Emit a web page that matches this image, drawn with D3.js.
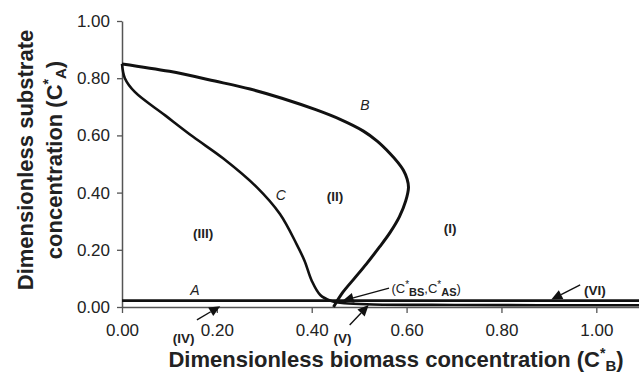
<!DOCTYPE html>
<html><head><meta charset="utf-8">
<script src="https://cdn.jsdelivr.net/npm/d3@7"></script>
<style>
body{margin:0;background:#fff;}
svg{display:block;font-family:Arial,"Liberation Sans",sans-serif;}
</style></head>
<body><svg id="c" width="639" height="374"></svg>
<script>
// ---- data ----
const xTicks = [0, 0.2, 0.4, 0.6, 0.8, 1.0];
const yTicks = [0, 0.2, 0.4, 0.6, 0.8, 1.0];
const xDomain = [0, 1.09];
const yDomain = [0, 1.0];
// curve B (x = C*B, y = C*A)
const curveBx = [0, 0.10, 0.196, 0.27, 0.337, 0.41, 0.46, 0.509, 0.538, 0.565, 0.582, 0.593, 0.601, 0.604, 0.598, 0.585, 0.565, 0.543, 0.515, 0.49, 0.465, 0.446];
const curveBy = [0.85, 0.824, 0.79, 0.762, 0.73, 0.689, 0.656, 0.615, 0.58, 0.537, 0.505, 0.479, 0.448, 0.418, 0.37, 0.316, 0.26, 0.21, 0.15, 0.10, 0.05, 0.0];
// curve C
const curveCx = [0, 0.006, 0.027, 0.091, 0.15, 0.213, 0.284, 0.333, 0.368, 0.385, 0.40, 0.418, 0.44, 0.47, 0.53, 0.7, 1.09];
const curveCy = [0.85, 0.80, 0.752, 0.67, 0.595, 0.52, 0.419, 0.325, 0.22, 0.161, 0.092, 0.042, 0.022, 0.013, 0.009, 0.007, 0.006];
// line A
const lineAx = [0, 1.09];
const lineAy = [0.022, 0.022];
// region / curve labels
const regionLabels = [
  {t:"(I)", x:0.692, y:0.259},
  {t:"(II)", x:0.449, y:0.371},
  {t:"(III)", x:0.171, y:0.241}
];
const curveLabels = [
  {t:"A", x:0.154, y:0.042},
  {t:"B", x:0.512, y:0.689},
  {t:"C", x:0.335, y:0.374}
];
// arrows: from -> to (data coords) and label
const arrows = [
  {t:"(IV)", fx:0.158, fy:-0.045, tx:0.207, ty:0.003, lx:0.13, ly:-0.126},
  {t:"(V)", fx:0.48, fy:-0.063, tx:0.52, ty:0.007, lx:0.465, ly:-0.126},
  {t:"(VI)", fx:0.966, fy:0.077, tx:0.905, ty:0.026, lx:0.997, ly:0.042}
];
const eqArrow = {fx:0.563, fy:0.066, tx:0.465, ty:0.022, lx:0.568, ly:0.05};

// ---- drawing ----
const svg = d3.select("#c");
const x = d3.scaleLinear().domain(xDomain).range([122, 639]);
const y = d3.scaleLinear().domain(yDomain).range([307, 21]);
const ink = "#111", axisCol = "#555", txt = "#222";

// axes
const ya = svg.append("g").attr("transform", `translate(${x(0)},0)`)
  .call(d3.axisLeft(y).tickValues(yTicks).tickFormat(d3.format(".2f")).tickSize(5).tickSizeOuter(0));
const xa = svg.append("g").attr("transform", `translate(0,${y(0)})`)
  .call(d3.axisBottom(x).tickValues(xTicks).tickFormat(d3.format(".2f")).tickSize(6).tickSizeOuter(0));
[ya, xa].forEach(g => {
  g.select(".domain").attr("stroke", axisCol).attr("stroke-width", 1.5);
  g.selectAll(".tick line").attr("stroke", axisCol).attr("stroke-width", 1.3);
  g.selectAll("text").attr("fill", txt).attr("font-size", 17).attr("font-family", "Arial, Liberation Sans, sans-serif");
});
ya.selectAll("text").attr("x", -12);
xa.selectAll("text").attr("y", 17);

// lines
const line = d3.line().x(d => x(d[0])).y(d => y(d[1])).curve(d3.curveCatmullRom.alpha(0.5));
const zip = (a, b) => a.map((v, i) => [v, b[i]]);
svg.append("path").datum(zip(curveCx, curveCy)).attr("d", line)
  .attr("fill", "none").attr("stroke", ink).attr("stroke-width", 2.6);
svg.append("path").datum(zip(curveBx, curveBy)).attr("d", line)
  .attr("fill", "none").attr("stroke", ink).attr("stroke-width", 3);
svg.append("path").datum(zip(lineAx, lineAy)).attr("d", d3.line().x(d => x(d[0])).y(d => y(d[1])))
  .attr("fill", "none").attr("stroke", ink).attr("stroke-width", 2.8);

// labels
svg.selectAll(".rl").data(regionLabels).join("text")
  .attr("x", d => x(d.x)).attr("y", d => y(d.y)).attr("text-anchor", "middle")
  .attr("font-size", 13.5).attr("font-weight", "bold").attr("fill", txt).text(d => d.t);
svg.selectAll(".cl").data(curveLabels).join("text")
  .attr("x", d => x(d.x)).attr("y", d => y(d.y)).attr("text-anchor", "middle")
  .attr("font-size", 14).attr("font-style", "italic").attr("fill", txt).text(d => d.t);

// arrows
function arrow(a) {
  const x1 = x(a.fx), y1 = y(a.fy), x2 = x(a.tx), y2 = y(a.ty);
  const ang = Math.atan2(y2 - y1, x2 - x1);
  const L = 11, W = 5;
  const bx = x2 - L * Math.cos(ang), by = y2 - L * Math.sin(ang);
  svg.append("line").attr("x1", x1).attr("y1", y1).attr("x2", bx).attr("y2", by)
    .attr("stroke", ink).attr("stroke-width", 1.4);
  const px = -Math.sin(ang) * W, py = Math.cos(ang) * W;
  svg.append("path").attr("d", `M${x2},${y2}L${bx + px},${by + py}L${bx - px},${by - py}Z`).attr("fill", ink);
}
arrows.forEach(a => {
  arrow(a);
  svg.append("text").attr("x", x(a.lx)).attr("y", y(a.ly)).attr("text-anchor", "middle")
    .attr("font-size", 13.5).attr("font-weight", "bold").attr("fill", txt).text(a.t);
});
arrow(eqArrow);
const eq = svg.append("text").attr("x", x(eqArrow.lx)).attr("y", y(eqArrow.ly))
  .attr("font-size", 13).attr("fill", txt);
eq.append("tspan").text("(C");
eq.append("tspan").attr("dy", -5).attr("font-size", 10).text("*");
eq.append("tspan").attr("dy", 8).attr("font-size", 11).attr("font-weight", "bold").text("BS");
eq.append("tspan").attr("dy", -3).text(",C");
eq.append("tspan").attr("dy", -5).attr("font-size", 10).text("*");
eq.append("tspan").attr("dy", 8).attr("font-size", 11).attr("font-weight", "bold").text("AS");
eq.append("tspan").attr("dy", -3).text(")");

// axis titles
const xt = svg.append("text").attr("x", 396).attr("y", 367).attr("text-anchor", "middle")
  .attr("font-size", 22).attr("font-weight", "bold").attr("fill", txt);
xt.append("tspan").text("Dimensionless biomass concentration (C");
xt.append("tspan").attr("dy", -9).attr("font-size", 14).text("*");
xt.append("tspan").attr("dy", 13).attr("font-size", 15).text("B");
xt.append("tspan").attr("dy", -4).text(")");

const yt = svg.append("g").attr("transform", "translate(0,160) rotate(-90)");
yt.append("text").attr("x", 0).attr("y", 33).attr("text-anchor", "middle")
  .attr("font-size", 22).attr("font-weight", "bold").attr("fill", txt).text("Dimensionless substrate");
const yt2 = yt.append("text").attr("x", 0).attr("y", 62).attr("text-anchor", "middle")
  .attr("font-size", 22).attr("font-weight", "bold").attr("fill", txt);
yt2.append("tspan").text("concentration (C");
yt2.append("tspan").attr("dy", -9).attr("font-size", 14).text("*");
yt2.append("tspan").attr("dy", 13).attr("font-size", 15).text("A");
yt2.append("tspan").attr("dy", -4).text(")");
</script></body></html>
